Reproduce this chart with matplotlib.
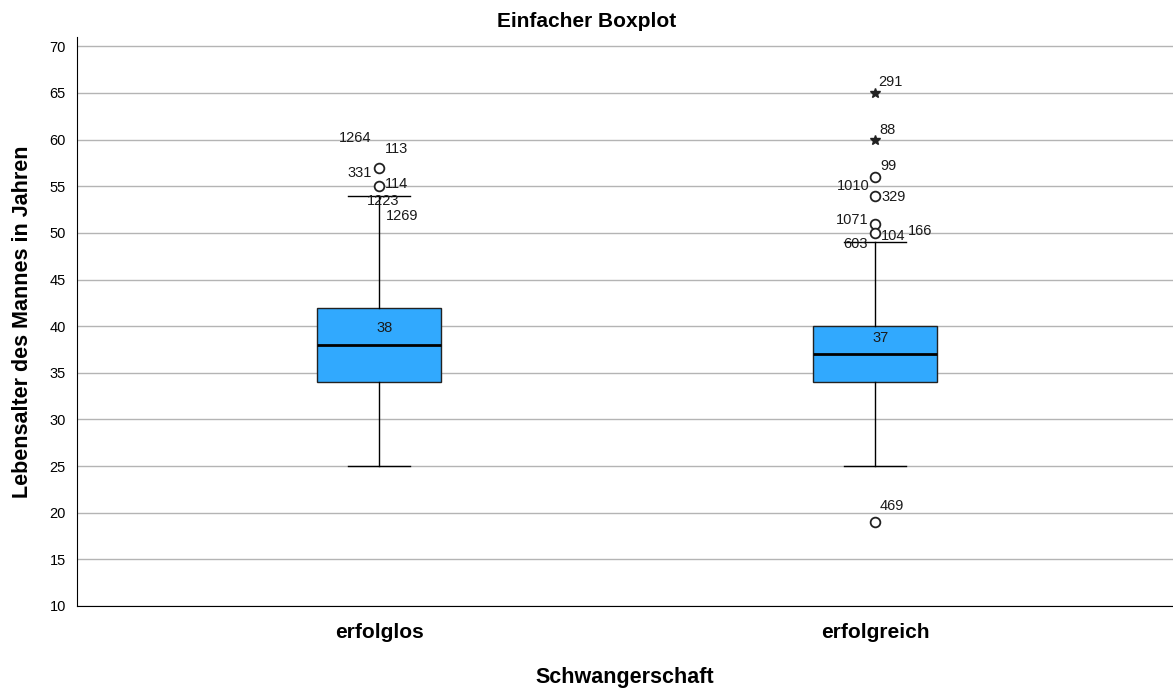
import matplotlib.pyplot as plt
import numpy as np

plt.rcParams['font.family'] = ['Liberation Sans', 'DejaVu Sans']

groups = ['erfolglos', 'erfolgreich']
q1 = [34, 34]
median = [38, 37]
q3 = [42, 40]
whisk_lo = [25, 25]
whisk_hi = [54, 49]

# outliers (circles) and extremes (stars)
out_vals = [[57, 55], [56, 54, 51, 50, 19]]
ext_vals = [[], [65, 60]]

# case numbers written next to the outliers: (group, x offset, value, text)
case_labels = [
    (0, -0.05, 60.2, '1264'), (0, 0.035, 59.0, '113'),
    (0, -0.04, 56.4, '331'), (0, 0.035, 55.2, '114'),
    (0, 0.008, 53.4, '1223'), (0, 0.045, 51.8, '1269'),
    (1, 0.03, 66.2, '291'), (1, 0.025, 61.0, '88'),
    (1, 0.027, 57.2, '99'), (1, -0.045, 55.0, '1010'),
    (1, 0.037, 53.9, '329'), (1, -0.047, 51.4, '1071'),
    (1, 0.035, 49.7, '104'), (1, 0.09, 50.2, '166'),
    (1, -0.04, 48.8, '603'), (1, 0.033, 20.7, '469'),
]

stats = []
for i, g in enumerate(groups):
    stats.append(dict(med=median[i], q1=q1[i], q3=q3[i],
                      whislo=whisk_lo[i], whishi=whisk_hi[i],
                      fliers=[], label=g))

fig = plt.figure(figsize=(11.73, 6.88), dpi=100)
ax = fig.add_axes([0.0656, 0.1192, 0.9344, 0.827])

pos = np.arange(len(groups))
ax.bxp(stats, positions=pos, widths=0.25, patch_artist=True,
       boxprops=dict(facecolor='#31a9fe', edgecolor='#222222', linewidth=1),
       medianprops=dict(color='black', linewidth=2),
       whiskerprops=dict(color='black', linewidth=1),
       capprops=dict(color='black', linewidth=1),
       capwidths=0.125, zorder=3)

for i in range(len(groups)):
    ax.plot([pos[i]] * len(out_vals[i]), out_vals[i], 'o', mfc='white',
            mec='#222222', mew=1.3, ms=7, zorder=4)
    if ext_vals[i]:
        ax.plot([pos[i]] * len(ext_vals[i]), ext_vals[i], '*', color='#222222',
                ms=7, zorder=4)
    ax.text(pos[i] + 0.01, median[i] + 1.0, str(median[i]), ha='center',
            va='bottom', fontsize=10.5, color='#1a1a1a', zorder=5)

for g, dx, v, t in case_labels:
    ax.text(pos[g] + dx, v, t, ha='center', va='center', fontsize=10.5,
            color='#1a1a1a', zorder=5)

ax.set_xlim(-0.61, 1.60)
ax.set_ylim(10, 71)
ax.set_yticks(np.arange(10, 71, 5))
ax.set_xticks(pos)
ax.set_xticklabels(groups, fontsize=15, fontweight='bold')
ax.tick_params(axis='both', length=0, pad=12)
ax.tick_params(axis='y', labelsize=10.5, pad=8)
ax.yaxis.grid(True, color='#b4b4b4', linewidth=1)
ax.set_axisbelow(True)
for s in ['top', 'right']:
    ax.spines[s].set_visible(False)
ax.spines['left'].set_color('black')
ax.spines['bottom'].set_color('black')

ax.set_ylabel('Lebensalter des Mannes in Jahren', fontsize=15.5,
              fontweight='bold', labelpad=12)
ax.set_xlabel('Schwangerschaft', fontsize=15.5, fontweight='bold', labelpad=18)
fig.suptitle('Einfacher Boxplot', fontsize=15, fontweight='bold', y=0.982)

fig.savefig('out.png', dpi=100)
